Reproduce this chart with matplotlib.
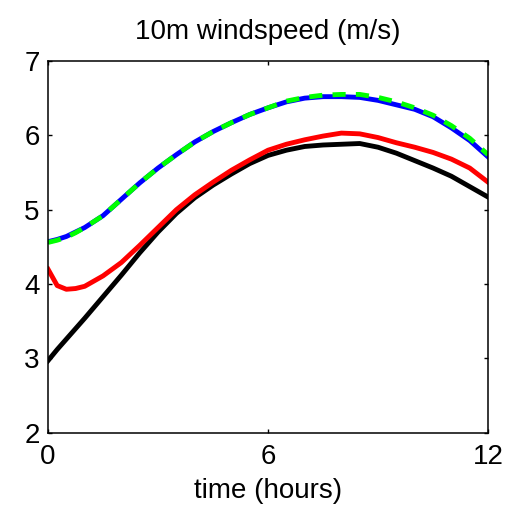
import numpy as np
import matplotlib
matplotlib.use('Agg')
import matplotlib.pyplot as plt

plt.rcParams['font.family'] = ['Liberation Sans', 'DejaVu Sans']

# time axis (hours)
hours = [0, 0.25, 0.5, 0.75, 1, 1.5, 2, 2.5, 3, 3.5, 4, 4.5, 5, 5.5, 6,
         6.5, 7, 7.5, 8, 8.5, 9, 9.5, 10, 10.5, 11, 11.5, 12]

black_ws = [2.97, 3.12, 3.26, 3.40, 3.54, 3.83, 4.12, 4.42, 4.70, 4.95, 5.16,
            5.33, 5.48, 5.62, 5.73, 5.80, 5.85, 5.87, 5.88, 5.89, 5.84, 5.76,
            5.66, 5.56, 5.45, 5.31, 5.17]
red_ws = [4.20, 3.98, 3.93, 3.94, 3.97, 4.11, 4.29, 4.52, 4.76, 5.00, 5.20,
          5.37, 5.53, 5.67, 5.80, 5.88, 5.94, 5.99, 6.03, 6.02, 5.97, 5.90,
          5.84, 5.77, 5.68, 5.56, 5.37]
blue_ws = [4.57, 4.60, 4.64, 4.70, 4.76, 4.92, 5.14, 5.36, 5.56, 5.74, 5.91,
           6.05, 6.17, 6.28, 6.37, 6.45, 6.50, 6.52, 6.52, 6.51, 6.47, 6.41,
           6.35, 6.25, 6.10, 5.93, 5.71]
green_ws = [4.56, 4.59, 4.63, 4.69, 4.76, 4.92, 5.14, 5.36, 5.56, 5.74, 5.91,
            6.05, 6.17, 6.28, 6.37, 6.46, 6.51, 6.54, 6.55, 6.55, 6.51, 6.45,
            6.37, 6.27, 6.13, 5.96, 5.74]

fig = plt.figure(figsize=(5.22, 5.08), dpi=100)
ax = fig.add_axes([0.092, 0.148, 0.843, 0.732])

lw = 3.5
ax.plot(hours, black_ws, color='black', lw=lw)
ax.plot(hours, red_ws, color='red', lw=lw)
ax.plot(hours, blue_ws, color='blue', lw=lw)
ax.plot(hours, green_ws, color='#00ff00', lw=lw, dashes=(2.7, 2.1))

ax.set_xlim(0, 12)
ax.set_ylim(2, 7)
ax.set_xticks([0, 6, 12])
ax.set_yticks([2, 3, 4, 5, 6, 7])
ax.tick_params(direction='in', top=True, right=True, length=3, width=1,
               labelsize=20)
ax.tick_params(axis='y', pad=6)
ax.tick_params(axis='x', pad=8)
for s in ax.spines.values():
    s.set_linewidth(1.1)

ax.set_title('10m windspeed (m/s)', fontsize=20, pad=16)
ax.set_xlabel('time (hours)', fontsize=20, labelpad=6)

fig.savefig('out.png', dpi=100)
